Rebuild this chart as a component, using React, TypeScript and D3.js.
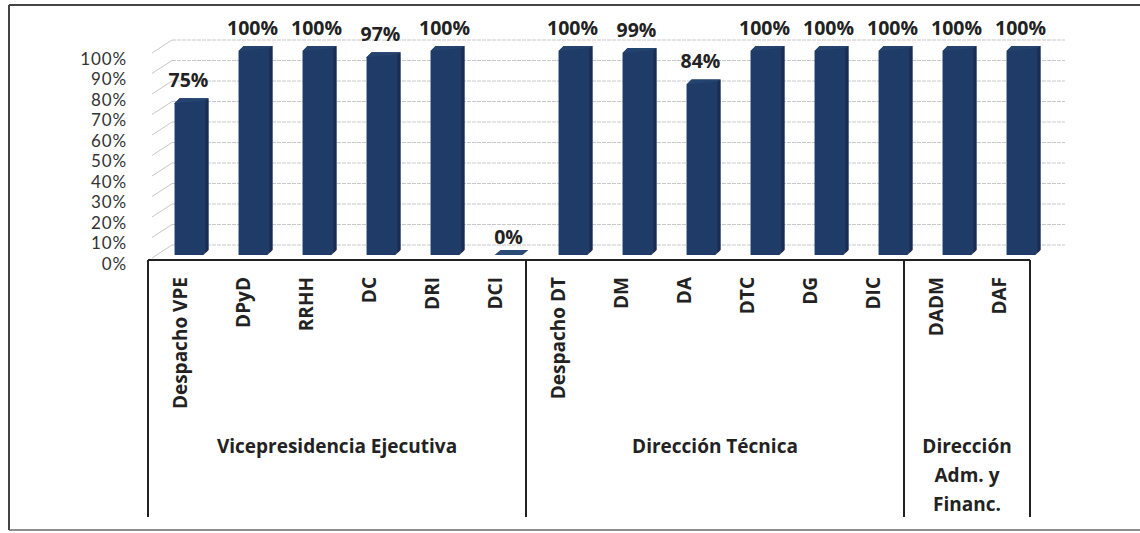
import React from "react";
import * as d3 from "d3";

const categories = [
  "Despacho VPE", "DPyD", "RRHH", "DC", "DRI", "DCI",
  "Despacho DT", "DM", "DA", "DTC", "DG", "DIC",
  "DADM", "DAF",
];
const values = [0.75, 1.0, 1.0, 0.97, 1.0, 0.0, 1.0, 0.99, 0.84, 1.0, 1.0, 1.0, 1.0, 1.0];
const valueLabels = ["75%", "100%", "100%", "97%", "100%", "0%", "100%", "99%", "84%", "100%", "100%", "100%", "100%", "100%"];
const groups = [
  { lines: ["Vicepresidencia Ejecutiva"], start: 0, end: 6 },
  { lines: ["Dirección Técnica"], start: 6, end: 12 },
  { lines: ["Dirección", "Adm. y", "Financ."], start: 12, end: 14 },
];
const yTicks = [0, 0.1, 0.2, 0.3, 0.4, 0.5, 0.6, 0.7, 0.8, 0.9, 1.0];

const W = 1140;
const H = 533;
const FONT = "'Open Sans', 'Liberation Sans', sans-serif";
const TICKFONT = "Lato, 'Open Sans', sans-serif";

export default function App() {
  const xBar = d3.scaleBand<string>().domain(categories).range([159.5, 1055.5]).padding(0);
  const xAxis = d3.scaleBand<string>().domain(categories).range([148, 1030]).padding(0);
  const yBar = d3.scaleLinear().domain([0, 1]).range([255, 46]);
  const yGrid = d3.scaleLinear().domain([0, 1]).range([245, 40]);
  const yLab = d3.scaleLinear().domain([0, 1]).range([263, 58]);
  const fmt = d3.format(".0%");
  const barW = xBar.step() * 0.53;
  const d = 5;

  const axisTop = 260;
  const axisBottom = 517;

  return (
    <svg width={W} height={H} style={{ position: "absolute", left: 0, top: 0, background: "#fff" }}>
      <rect x={0} y={0} width={W} height={H} fill="#fff" />
      {/* outer frame */}
      <line x1={9} y1={5} x2={1140} y2={5} stroke="#444" strokeWidth={2} />
      <line x1={9} y1={5} x2={9} y2={530} stroke="#444" strokeWidth={2} />
      <line x1={9} y1={530} x2={1140} y2={530} stroke="#666" strokeWidth={1.5} />

      {/* gridlines (back wall) */}
      {yTicks.map((t) => (
        <g key={"g" + t}>
          <line x1={152} y1={yGrid(t) + 13} x2={172} y2={yGrid(t)} stroke="#c8c8c8" strokeWidth={1} />
          <line x1={172} y1={yGrid(t)} x2={1065} y2={yGrid(t)} stroke="#c8c8c8" strokeWidth={1} strokeDasharray="4,1" />
        </g>
      ))}

      {/* y tick labels */}
      {yTicks.map((t) => (
        <text key={"t" + t} x={127} y={yLab(t)} textAnchor="end" dominantBaseline="central"
          fontFamily={TICKFONT} fontSize={17} letterSpacing={0.9} fill="#333">{fmt(t)}</text>
      ))}

      {/* bars */}
      {categories.map((c, i) => {
        const cx = (xBar(c) as number) + xBar.step() / 2;
        const x0 = cx - barW / 2;
        const x1 = cx + barW / 2;
        const top = yBar(values[i]);
        const bot = yBar(0);
        if (values[i] === 0) {
          return (
            <polygon key={c} points={`${x0},${bot} ${x0 + 6},${bot - 5} ${x1},${bot - 5} ${x1 - 6},${bot}`}
              fill="#2a4a78" />
          );
        }
        const pts = [
          [x0, top + d], [x0 + d, top], [x1, top], [x1, bot - d], [x1 - d, bot], [x0, bot],
        ].map((p) => p.join(",")).join(" ");
        return (
          <g key={c}>
            <polygon points={pts} fill="#1f3b68" />
            <polygon points={`${x1 - 3},${top + 2} ${x1},${top} ${x1},${bot - d} ${x1 - 3},${bot - 2}`} fill="#182d50" />
            <polygon points={`${x0},${top + d} ${x0 + d},${top} ${x1},${top} ${x1 - 3},${top + 2} ${x0 + 2},${top + d}`} fill="#24436f" />
          </g>
        );
      })}

      {/* value labels */}
      {categories.map((c, i) => {
        const cx = (xBar(c) as number) + xBar.step() / 2 - 3;
        return (
          <text key={"v" + c} x={cx} y={yBar(values[i]) - 19} textAnchor="middle" dominantBaseline="central"
            fontFamily={FONT} fontWeight={700} fontSize={19.5} fill="#222">{valueLabels[i]}</text>
        );
      })}

      {/* category axis box */}
      <line x1={148} y1={axisTop} x2={1030} y2={axisTop} stroke="#222" strokeWidth={2} />
      {groups.map((g, gi) => {
        const xs = (xAxis(categories[g.start]) as number);
        return (
          <line key={"s" + gi} x1={xs} y1={axisTop} x2={xs} y2={axisBottom} stroke="#222" strokeWidth={2} />
        );
      })}
      <line x1={xAxis.range()[1]} y1={axisTop} x2={xAxis.range()[1]} y2={axisBottom} stroke="#222" strokeWidth={2} />

      {/* category labels */}
      {categories.map((c) => {
        const cx = (xAxis(c) as number) + xAxis.step() / 2;
        return (
          <text key={"c" + c} transform={`translate(${cx},277) rotate(-90)`} textAnchor="end"
            dominantBaseline="central" fontFamily={FONT} fontWeight={700} fontSize={19} fill="#222">{c}</text>
        );
      })}

      {/* group labels */}
      {groups.map((g, gi) => {
        const xs = xAxis(categories[g.start]) as number;
        const xe = g.end < categories.length ? (xAxis(categories[g.end]) as number) : xAxis.range()[1];
        const cx = (xs + xe) / 2;
        return (
          <text key={"gl" + gi} textAnchor="middle" fontFamily={FONT} fontWeight={700} fontSize={19} fill="#222">
            {g.lines.map((l, li) => (
              <tspan key={li} x={cx} y={446 + li * 29} dominantBaseline="central">{l}</tspan>
            ))}
          </text>
        );
      })}
    </svg>
  );
}
